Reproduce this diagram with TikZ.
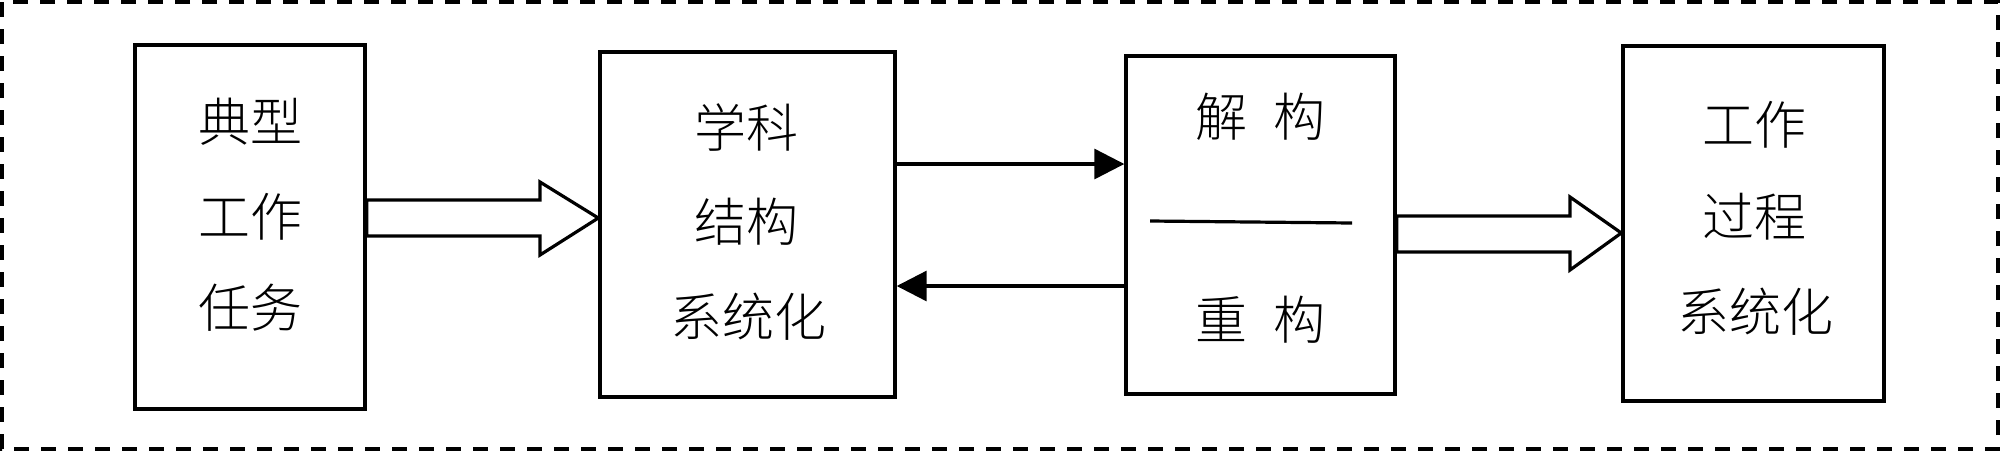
\documentclass[tikz,border=0pt]{standalone}
\usepackage{fontspec}
\newfontfamily\cjk{Noto Sans CJK SC Light}
\usetikzlibrary{arrows.meta}
\begin{document}
\begin{tikzpicture}[x=0.5pt,y=-0.5pt,
  box/.style={draw,line width=1.7pt,minimum width=#1,inner sep=0pt},
  lbl/.style={font=\cjk\fontsize{26pt}{30pt}\selectfont,inner sep=0pt},
  hollow/.style={draw,line width=1.6pt,line join=miter,fill=white},
  conn/.style={draw,line width=1.6pt,-{Triangle[length=15pt,width=15pt]}},
  sep/.style={draw,line width=1.6pt},
  frame/.style={draw,line width=2.2pt,dash pattern=on 7.5pt off 6pt}]
\useasboundingbox (0,0) rectangle (2000,451);
\draw[frame] (2,2) rectangle (1998,449);
% boxes
\node[box=115pt,minimum height=182pt] (b1) at (250,227) {};
\node[box=147.5pt,minimum height=172.5pt] (b2) at (747.5,224.5) {};
\node[box=134.5pt,minimum height=169pt] (b3) at (1260.5,225) {};
\node[box=130.5pt,minimum height=177.5pt] (b4) at (1753.5,223.5) {};
% texts
\node[lbl] (t1a) at (250,122) {典型};
\node[lbl] (t1b) at (250,217) {工作};
\node[lbl] (t1c) at (250,308) {任务};
\node[lbl] (t2a) at (746,128) {学科};
\node[lbl] (t2b) at (746,222) {结构};
\node[lbl] (t2c) at (748,317) {系统化};
\node[lbl] (t3a) at (1260,117) {解\hspace{0.5em}构};
\node[lbl] (t3b) at (1260,320) {重\hspace{0.5em}构};
\node[lbl] (t4a) at (1754,125) {工作};
\node[lbl] (t4b) at (1754,217) {过程};
\node[lbl] (t4c) at (1755,312) {系统化};
% separator
\coordinate (s1) at (1150,221);
\coordinate (s2) at (1352,223);
\draw[sep] (s1) -- (s2);
% hollow arrows
\draw[hollow] (b1.east |- 0,200) -- (540,200) -- (540,182) -- (b2.west |- 0,218) -- (540,255) -- (540,236) -- (b1.east |- 0,236) -- cycle;
\draw[hollow] (b3.east |- 0,216) -- (1570,216) -- (1570,197) -- (b4.west |- 0,233) -- (1570,270) -- (1570,252) -- (b3.east |- 0,252) -- cycle;
% solid arrows
\draw[conn] (b2.east |- 0,164) -- (b3.west |- 0,164);
\draw[conn] (b3.west |- 0,286) -- (b2.east |- 0,286);
\end{tikzpicture}
\end{document}
